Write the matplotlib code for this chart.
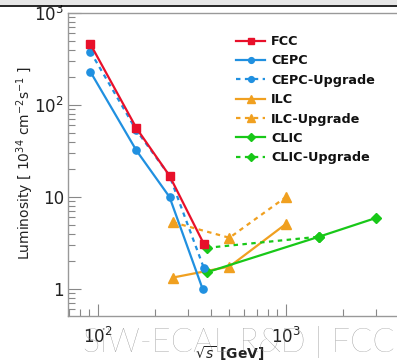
import matplotlib
matplotlib.use("Agg")
import matplotlib.pyplot as plt
from matplotlib.ticker import LogLocator, NullFormatter, FixedLocator, FixedFormatter

# Data
fcc_x = [91, 160, 240, 365]
fcc_y = [460, 56, 17, 3.1]
cepc_x = [91, 160, 240, 360]
cepc_y = [230, 32, 10, 1.0]
cepcup_x = [91, 160, 240, 365]
cepcup_y = [380, 53, 17, 1.7]
ilc_x = [250, 500, 1000]
ilc_y = [1.33, 1.75, 5.1]
ilcup_x = [250, 500, 1000]
ilcup_y = [5.3, 3.6, 10.0]
clic_x = [380, 1500, 3000]
clic_y = [1.52, 3.7, 5.9]
clicup_x = [380, 1500]
clicup_y = [2.8, 3.7]

xticks = [100, 1000]
xticklabels = [r"$10^{2}$", r"$10^{3}$"]
yticks = [1, 10, 100, 1000]
yticklabels = ["1", "10", r"$10^{2}$", r"$10^{3}$"]

red = "#e8102a"
blue = "#2090e0"
orange = "#f0a020"
green = "#18c818"

W, H = 397, 360
fig = plt.figure(figsize=(W / 100, H / 100), dpi=100)
fig.patch.set_facecolor("white")

# top bar of screenshot
fig.patches.append(plt.Rectangle((0, 1 - 5 / H), 1, 5 / H, transform=fig.transFigure,
                                 facecolor="#e6e6e6", edgecolor="none", zorder=0))
fig.lines.append(plt.Line2D([0, 1], [1 - 5.5 / H, 1 - 5.5 / H], transform=fig.transFigure,
                            color="black", lw=1.2))

left, right = 68, 400
top, bottom = 13, 316
ax = fig.add_axes([left / W, 1 - bottom / H, (right - left) / W, (bottom - top) / H])
ax.set_xscale("log")
ax.set_yscale("log")
ax.set_xlim(69.2, 4040)
ax.set_ylim(0.508, 1000)

lw = 1.6
ax.plot(fcc_x, fcc_y, color=red, lw=lw, marker="s", ms=6, label="FCC", zorder=5)
ax.plot(cepc_x, cepc_y, color=blue, lw=lw, marker="o", ms=5.2, label="CEPC", zorder=4)
ax.plot(cepcup_x, cepcup_y, color=blue, lw=lw, ls=(0, (2, 2)), marker="o", ms=5.2,
        label="CEPC-Upgrade", zorder=4)
ax.plot(ilc_x, ilc_y, color=orange, lw=lw, marker="^", ms=6.5, label="ILC", zorder=3)
ax.plot(ilcup_x, ilcup_y, color=orange, lw=lw, ls=(0, (2, 2)), marker="^", ms=6.5,
        label="ILC-Upgrade", zorder=3)
ax.plot(clic_x, clic_y, color=green, lw=lw, marker="D", ms=5.5, label="CLIC", zorder=3)
ax.plot(clicup_x, clicup_y, color=green, lw=lw, ls=(0, (2, 2)), marker="D", ms=5.5,
        label="CLIC-Upgrade", zorder=3)

for s in ax.spines.values():
    s.set_color("#999999")
    s.set_linewidth(1.0)

ax.xaxis.set_major_locator(FixedLocator(xticks))
ax.xaxis.set_major_formatter(FixedFormatter(xticklabels))
ax.yaxis.set_major_locator(FixedLocator(yticks))
ax.yaxis.set_major_formatter(FixedFormatter(yticklabels))
ax.xaxis.set_minor_locator(LogLocator(base=10, subs=range(2, 10), numticks=20))
ax.yaxis.set_minor_locator(LogLocator(base=10, subs=range(2, 10), numticks=20))
ax.xaxis.set_minor_formatter(NullFormatter())
ax.yaxis.set_minor_formatter(NullFormatter())
ax.tick_params(which="both", direction="in", color="#888888", top=False, right=False)
ax.tick_params(which="major", length=9, width=0.8, labelsize=12, labelcolor="#222222")
ax.tick_params(which="minor", length=5, width=0.8)
ax.tick_params(axis="y", pad=3)
ax.tick_params(axis="x", pad=8)

fig.text(25 / W, 1 - 163 / H, r"Luminosity [ $10^{34}$ cm$^{-2}$s$^{-1}$ ]", rotation=90,
         ha="center", va="center", fontsize=10, color="#222222")
fig.text(230 / W, 1 - 354 / H, r"$\sqrt{s}$ [GeV]", ha="center", va="center",
         fontsize=10, color="#222222", fontweight="bold")

leg = ax.legend(loc="upper left",
                bbox_to_anchor=((236 - left) / (right - left), 1 - (35 - top) / (bottom - top)),
                frameon=False, fontsize=9.2, handlelength=2.3, handletextpad=0.45,
                labelspacing=0.5, borderaxespad=0, borderpad=0, markerscale=0.8)
for t in leg.get_texts():
    t.set_fontweight("bold")
    t.set_color("#111111")

# slide footer overlay
fig.text(83 / W, 1 - 352 / H, "SiW-ECAL R&D | FCC", ha="left", va="baseline",
         fontsize=23.5, color="#8a8a8a", family="Lato", fontweight="light", zorder=10)

fig.savefig("out.png", dpi=100)
